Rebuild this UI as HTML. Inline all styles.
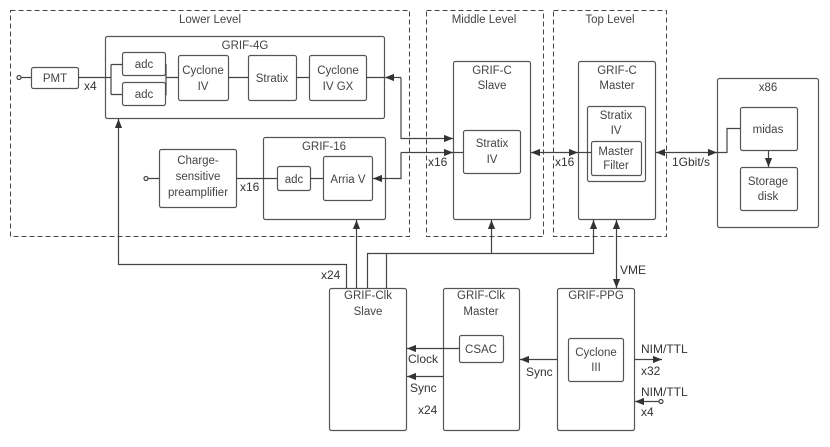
<!DOCTYPE html>
<html><head><style>
body{margin:0;background:#fff}
text{font-family:"Liberation Sans",sans-serif;font-size:12px;fill:#333}
.s{font-size:11.5px;fill:#444}
</style></head><body>
<svg width="830" height="442" viewBox="0 0 830 442" xmlns="http://www.w3.org/2000/svg">
<defs>
<marker id="a" viewBox="0 0 10 10" refX="10" refY="5" markerWidth="9" markerHeight="9" markerUnits="userSpaceOnUse" orient="auto"><path d="M0,1L10,5L0,9z" fill="#333"/></marker>
</defs>
<g fill="none" stroke="#444" stroke-width="1" stroke-dasharray="5,3">
<rect x="10.5" y="10.5" width="399" height="226"/>
<rect x="426.5" y="10.5" width="117" height="226"/>
<rect x="553.5" y="10.5" width="113" height="226"/>
</g>
<g fill="#fff" stroke="#555" stroke-width="1.2">
<rect x="105.5" y="36.5" width="279" height="82" rx="2"/>
<rect x="122.5" y="52.5" width="43" height="23" rx="2"/>
<rect x="122.5" y="82.5" width="43" height="23" rx="2"/>
<rect x="178.5" y="55.5" width="50" height="45" rx="2"/>
<rect x="248.5" y="55.5" width="48" height="45" rx="2"/>
<rect x="309.5" y="55.5" width="57" height="45" rx="2"/>
<rect x="31.5" y="67.5" width="47" height="21" rx="2"/>
<rect x="263.5" y="137.5" width="122" height="82" rx="2"/>
<rect x="277.5" y="166.5" width="33" height="24" rx="2"/>
<rect x="323.5" y="156.5" width="49" height="44" rx="2"/>
<rect x="159.5" y="149.5" width="77" height="58" rx="2"/>
<rect x="453.5" y="61.5" width="77" height="158" rx="2"/>
<rect x="463.5" y="130.5" width="57" height="43" rx="2"/>
<rect x="578.5" y="61.5" width="77" height="158" rx="2"/>
<rect x="587.5" y="106.5" width="58" height="75" rx="2"/>
<rect x="591.5" y="141.5" width="50" height="34" rx="2"/>
<rect x="717.5" y="78.5" width="101" height="149" rx="2"/>
<rect x="740.5" y="107.5" width="57" height="43" rx="2"/>
<rect x="740.5" y="167.5" width="57" height="43" rx="2"/>
<rect x="329.5" y="288.5" width="77" height="142" rx="2"/>
<rect x="443.5" y="288.5" width="76" height="142" rx="2"/>
<rect x="557.5" y="288.5" width="77" height="142" rx="2"/>
<rect x="459.5" y="335.5" width="44" height="27" rx="2"/>
<rect x="568.5" y="338.5" width="55" height="43" rx="2"/>
</g>
<g fill="none" stroke="#444" stroke-width="1.2">
<circle cx="19" cy="77.5" r="2"/>
<circle cx="146" cy="178.5" r="2"/>
<circle cx="661" cy="401.5" r="2"/>
<path d="M21 77.5H31M78 77.5H111M111 64.5V94.5M111 64.5H122M111 94.5H122M165 64.5H166V94.5H165M166 77.5H178M228 77.5H248M296 77.5H309M366 77.5H384"/>
<path d="M148 178.5H159M236 178.5H277M310 178.5H323"/>
<path d="M401 77.5V138.5H453" marker-end="url(#a)"/>
<path d="M401 138.5" />
<path d="M401 77.5H385" marker-end="url(#a)"/>
<path d="M401 152.5V178.5H373" marker-end="url(#a)"/>
<path d="M401 152.5H453" marker-end="url(#a)"/>
<path d="M453 152.5H463"/>
<path d="M555 152.5H531" marker-end="url(#a)"/>
<path d="M555 152.5H578" marker-end="url(#a)"/>
<path d="M578 152.5H591"/>
<path d="M686 152.5H656" marker-end="url(#a)"/>
<path d="M686 152.5H717" marker-end="url(#a)"/>
<path d="M717 152.5H727V128.5H740"/>
<path d="M768.5 150V167" marker-end="url(#a)"/>
<path d="M346.5 288V264.5H118.5V119" marker-end="url(#a)"/>
<path d="M356.5 288V220" marker-end="url(#a)"/>
<path d="M367.5 288V253.5H593.5V220" marker-end="url(#a)"/>
<path d="M386.5 288V253.5"/>
<path d="M491.5 253.5V220" marker-end="url(#a)"/>
<path d="M616.5 262V220" marker-end="url(#a)"/>
<path d="M616.5 262V288" marker-end="url(#a)"/>
<path d="M459 348.5H407" marker-end="url(#a)"/>
<path d="M443 376.5H407" marker-end="url(#a)"/>
<path d="M557 359.5H520" marker-end="url(#a)"/>
<path d="M634 359.5H662" marker-end="url(#a)"/>
<path d="M659 401.5H635" marker-end="url(#a)"/>
</g>
<g text-anchor="middle" class="s">
<text x="210" y="23" class="s">Lower Level</text>
<text x="484" y="23" class="s">Middle Level</text>
<text x="610" y="23" class="s">Top Level</text>
<text x="245" y="49" class="s">GRIF-4G</text>
<text x="144" y="68" class="s">adc</text>
<text x="144" y="98" class="s">adc</text>
<text x="203" y="74" class="s">Cyclone</text><text x="203" y="90" class="s">IV</text>
<text x="272" y="82" class="s">Stratix</text>
<text x="338" y="74" class="s">Cyclone</text><text x="338" y="90" class="s">IV GX</text>
<text x="55" y="82" class="s">PMT</text>
<text x="324" y="150" class="s">GRIF-16</text>
<text x="294" y="183" class="s">adc</text>
<text x="348" y="183" class="s">Arria V</text>
<text x="198" y="164" class="s">Charge-</text><text x="198" y="180" class="s">sensitive</text><text x="198" y="196" class="s">preamplifier</text>
<text x="492" y="74" class="s">GRIF-C</text><text x="492" y="89" class="s">Slave</text>
<text x="492" y="147" class="s">Stratix</text><text x="492" y="163" class="s">IV</text>
<text x="617" y="74" class="s">GRIF-C</text><text x="617" y="89" class="s">Master</text>
<text x="616" y="119" class="s">Stratix</text><text x="616" y="134" class="s">IV</text>
<text x="616" y="155" class="s">Master</text><text x="616" y="169" class="s">Filter</text>
<text x="768" y="91" class="s">x86</text>
<text x="768" y="133" class="s">midas</text>
<text x="768" y="185" class="s">Storage</text><text x="768" y="200" class="s">disk</text>
<text x="368" y="299" class="s">GRIF-Clk</text><text x="368" y="315" class="s">Slave</text>
<text x="481" y="299" class="s">GRIF-Clk</text><text x="481" y="315" class="s">Master</text>
<text x="596" y="299" class="s">GRIF-PPG</text>
<text x="481" y="353" class="s">CSAC</text>
<text x="596" y="356" class="s">Cyclone</text><text x="596" y="371" class="s">III</text>
</g>
<g>
<text x="84" y="90">x4</text>
<text x="240" y="191">x16</text>
<text x="428" y="166">x16</text>
<text x="555" y="166">x16</text>
<text x="672" y="166">1Gbit/s</text>
<text x="321" y="279">x24</text>
<text x="620" y="274">VME</text>
<text x="408" y="363">Clock</text>
<text x="410" y="392">Sync</text>
<text x="418" y="414">x24</text>
<text x="526" y="376">Sync</text>
<text x="641" y="353">NIM/TTL</text>
<text x="641" y="375">x32</text>
<text x="641" y="396">NIM/TTL</text>
<text x="641" y="416">x4</text>
</g>
</svg>
</body></html>
